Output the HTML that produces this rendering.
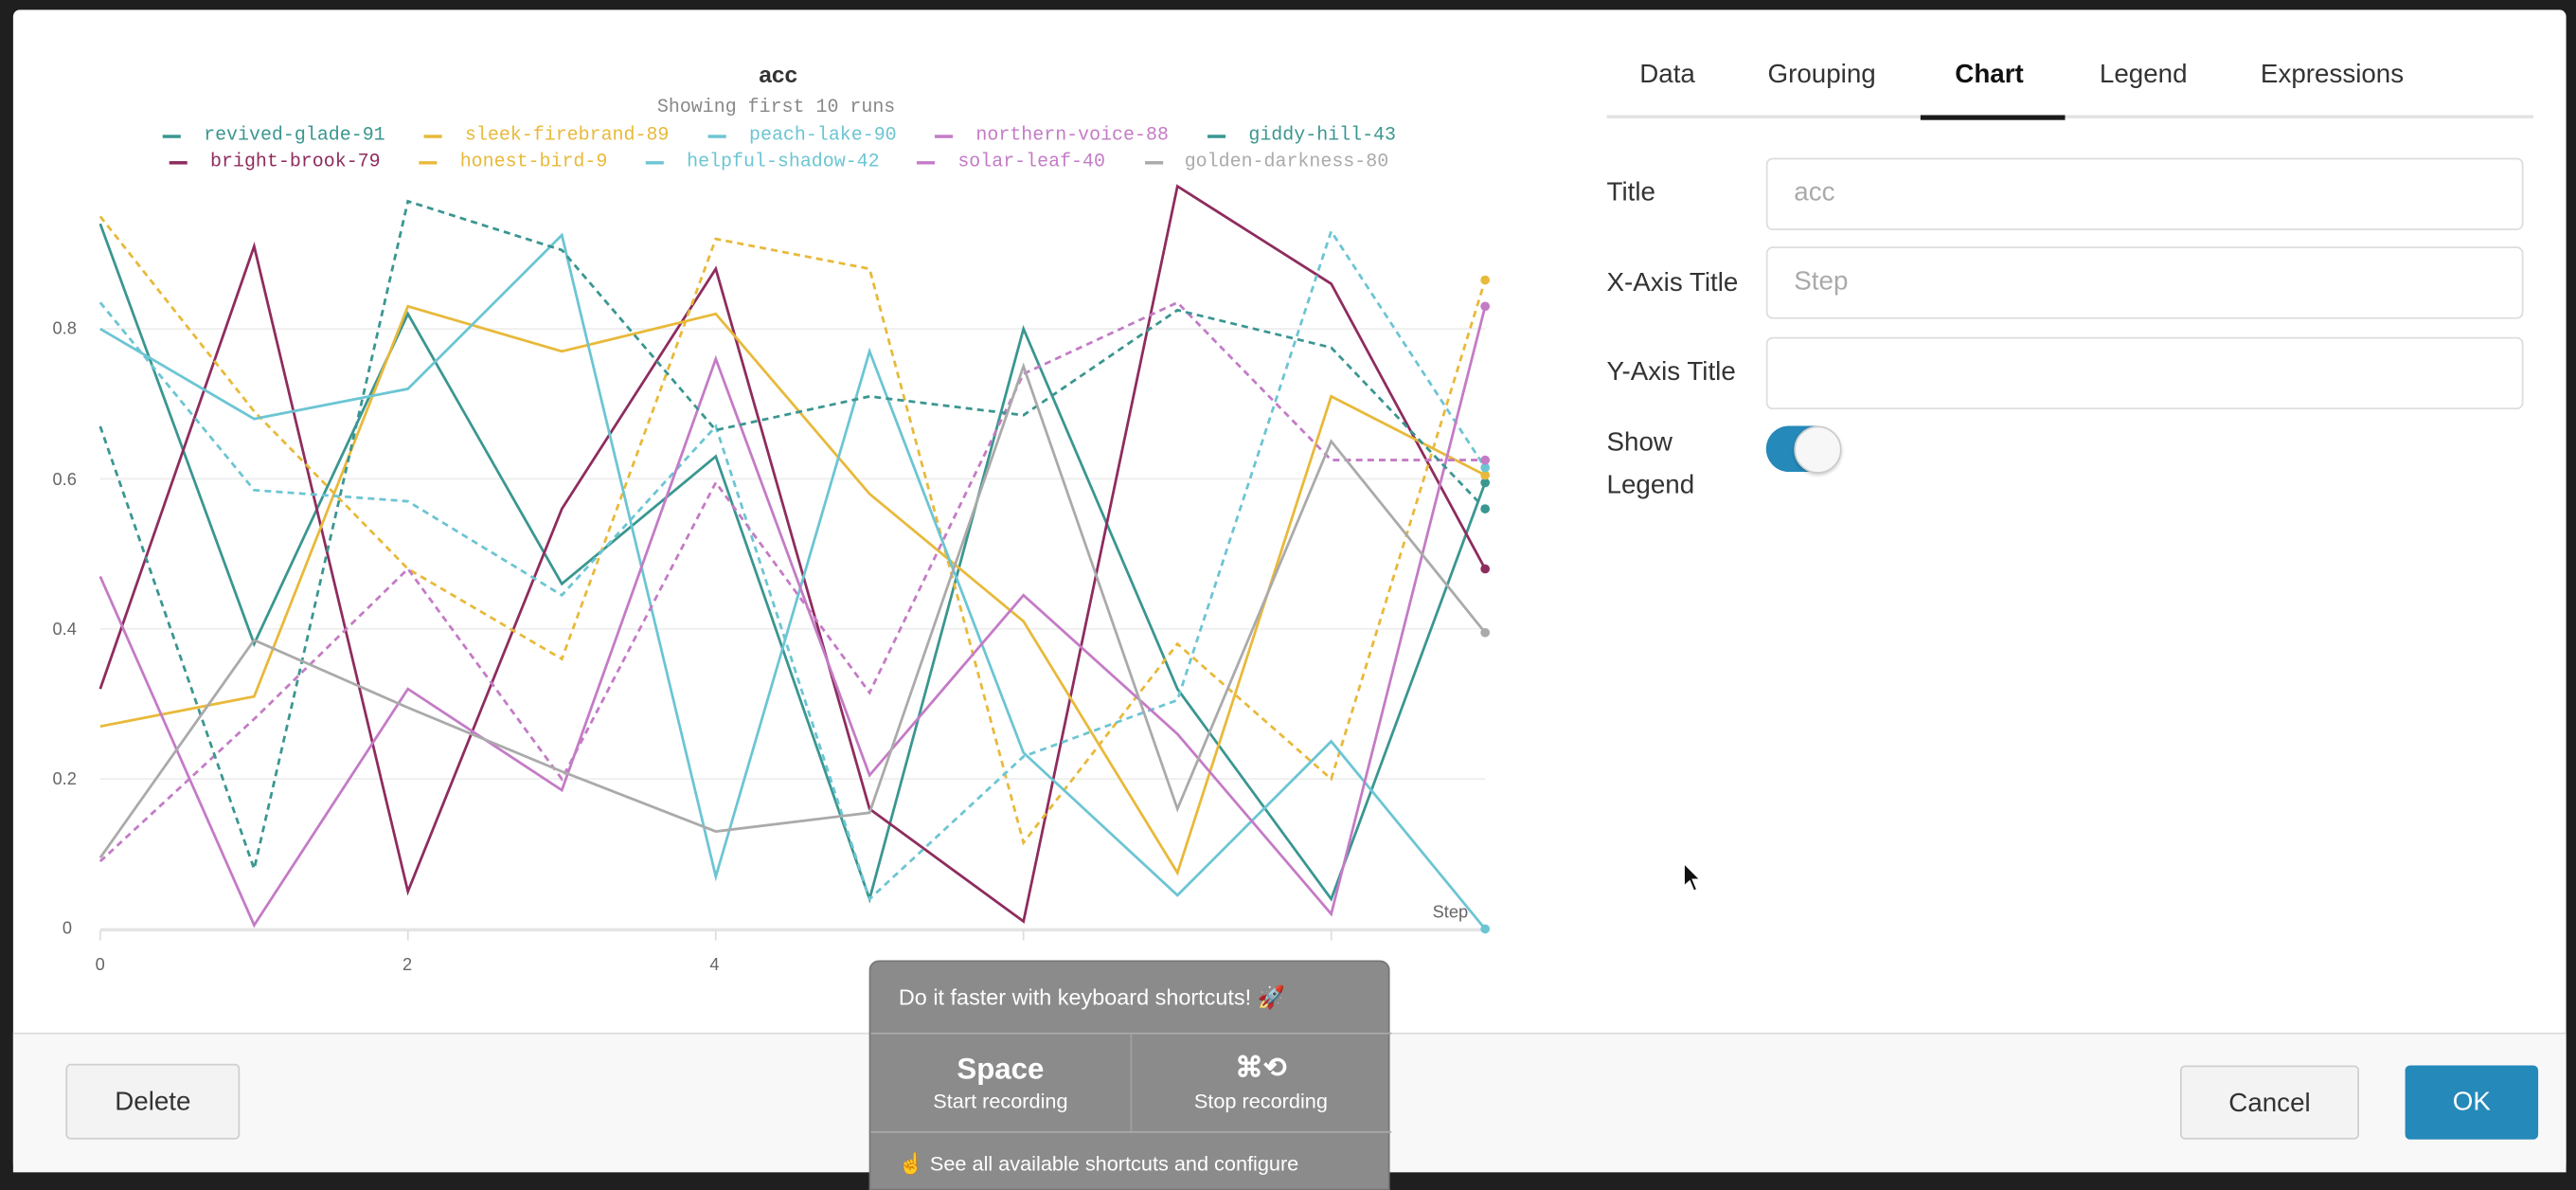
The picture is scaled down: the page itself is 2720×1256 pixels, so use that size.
<!DOCTYPE html>
<html><head><meta charset="utf-8">
<style>
html,body{margin:0;padding:0;width:2720px;height:1246px;overflow:hidden;background:#1f1f1f;}
#w{position:absolute;left:0;top:0;width:1568px;height:718px;transform-origin:0 0;transform:scale(1.73469,1.73538);font-family:"Liberation Sans",sans-serif;}
.a{position:absolute;white-space:nowrap;}
#modal{position:absolute;left:8px;top:6px;width:1554px;height:706px;background:#fff;border-radius:4px;overflow:hidden;}
#foot{position:absolute;left:8px;top:628px;width:1554px;height:84px;background:#f8f8f8;border-top:1px solid #ddd;}
.btn{position:absolute;border:1px solid #cfcfcf;border-radius:3px;background:#f3f3f3;color:#333;font-size:16px;text-align:center;box-sizing:border-box;}
.tab{position:absolute;top:37px;font-size:16px;color:#333;}
.lbl{position:absolute;left:978px;font-size:16px;color:#333;}
.inp{position:absolute;left:1075px;width:461px;height:44px;border:1px solid #ddd;border-radius:4px;box-sizing:border-box;font-size:16px;color:#aaa;padding:12px 16px;}
.leg{position:absolute;font-family:"Liberation Mono",monospace;font-size:11.5px;}
.mk{position:absolute;width:11px;height:0;border-top:2px solid;}
.mkd{position:absolute;width:11px;height:0;border-top:2px dashed;}
.tk{position:absolute;font-size:10.5px;color:#666;}
#tip{position:absolute;left:529px;top:584px;width:317px;height:140px;background:#8b8b8b;border-radius:6px 6px 0 0;color:#fff;border:1px solid #777;box-sizing:border-box;}
</style></head><body>
<div id="w">
<div id="modal"></div>
<div id="foot"></div>

<div class="a" style="left:462px;top:37px;font-size:14px;font-weight:bold;color:#333;">acc</div>
<div class="a" style="left:400px;top:59px;font-family:'Liberation Mono',monospace;font-size:11.5px;color:#888;">Showing first 10 runs</div>

<div class="mk" style="left:99px;top:82px;border-color:#3a9690"></div><div class="leg" style="left:124px;top:76px;color:#3a9690">revived-glade-91</div>
<div class="mk" style="left:258px;top:82px;border-color:#e8b93a"></div><div class="leg" style="left:283px;top:76px;color:#e8b93a">sleek-firebrand-89</div>
<div class="mk" style="left:431px;top:82px;border-color:#6cc5d3"></div><div class="leg" style="left:456px;top:76px;color:#6cc5d3">peach-lake-90</div>
<div class="mk" style="left:569px;top:82px;border-color:#c47bc6"></div><div class="leg" style="left:594px;top:76px;color:#c47bc6">northern-voice-88</div>
<div class="mkd" style="left:735px;top:82px;border-color:#3a9690"></div><div class="leg" style="left:760px;top:76px;color:#3a9690">giddy-hill-43</div>
<div class="mk" style="left:103px;top:98px;border-color:#8e2c5e"></div><div class="leg" style="left:128px;top:92px;color:#8e2c5e">bright-brook-79</div>
<div class="mkd" style="left:255px;top:98px;border-color:#e8b93a"></div><div class="leg" style="left:280px;top:92px;color:#e8b93a">honest-bird-9</div>
<div class="mkd" style="left:393px;top:98px;border-color:#6cc5d3"></div><div class="leg" style="left:418px;top:92px;color:#6cc5d3">helpful-shadow-42</div>
<div class="mkd" style="left:558px;top:98px;border-color:#c47bc6"></div><div class="leg" style="left:583px;top:92px;color:#c47bc6">solar-leaf-40</div>
<div class="mk" style="left:697px;top:98px;border-color:#aaa"></div><div class="leg" style="left:721px;top:92px;color:#aaa">golden-darkness-80</div>

<svg id="plot" class="a" style="left:0;top:0" width="960" height="620"></svg>

<div class="tk" style="left:32px;top:194px">0.8</div>
<div class="tk" style="left:32px;top:286px">0.6</div>
<div class="tk" style="left:32px;top:377px">0.4</div>
<div class="tk" style="left:32px;top:468px">0.2</div>
<div class="tk" style="left:38px;top:559px">0</div>
<div class="tk" style="left:58px;top:581px">0</div>
<div class="tk" style="left:245px;top:581px">2</div>
<div class="tk" style="left:432px;top:581px">4</div>
<div class="tk" style="left:872px;top:549px">Step</div>

<div class="tab" style="left:998px">Data</div>
<div class="tab" style="left:1076px">Grouping</div>
<div class="tab" style="left:1190px;font-weight:bold;color:#111">Chart</div>
<div class="tab" style="left:1278px">Legend</div>
<div class="tab" style="left:1376px">Expressions</div>
<div class="a" style="left:978px;top:70px;width:564px;height:2px;background:#e2e2e2"></div>
<div class="a" style="left:1169px;top:70px;width:88px;height:3px;background:#1a1a1a"></div>

<div class="lbl" style="top:109px">Title</div>
<div class="inp" style="top:96px">acc</div>
<div class="lbl" style="top:164px">X-Axis Title</div>
<div class="inp" style="top:150px">Step</div>
<div class="lbl" style="top:218px">Y-Axis Title</div>
<div class="inp" style="top:205px"></div>
<div class="lbl" style="top:257px;line-height:26px">Show<br>Legend</div>
<div class="a" style="left:1075px;top:259px;width:44px;height:28px;border-radius:14px;background:#2589b9"></div>
<div class="a" style="left:1092px;top:259px;width:27px;height:27px;border-radius:50%;background:#f7f7f7;border:1px solid #ccc;box-shadow:0 1px 2px rgba(0,0,0,.2)"></div>

<div class="btn" style="left:40px;top:647px;width:106px;height:46px;line-height:46px">Delete</div>
<div class="btn" style="left:1327px;top:648px;width:109px;height:45px;line-height:45px">Cancel</div>
<div class="btn" style="left:1464px;top:648px;width:81px;height:45px;line-height:45px;background:#2589b9;border:none;color:#fff">OK</div>

<div id="tip">
<div class="a" style="left:17px;top:14px;font-size:13.5px">Do it faster with keyboard shortcuts! 🚀</div>
<div class="a" style="left:0;top:43px;width:317px;height:1px;background:#aaa"></div>
<div class="a" style="left:158px;top:44px;width:1px;height:60px;background:#a0a0a0"></div>
<div class="a" style="left:0;top:103px;width:317px;height:1px;background:#aaa"></div>
<div class="a" style="left:0;top:55px;width:158px;text-align:center;font-size:18px;font-weight:bold">Space</div>
<div class="a" style="left:0;top:78px;width:158px;text-align:center;font-size:12.5px">Start recording</div>
<div class="a" style="left:158px;top:55px;width:159px;text-align:center;font-size:17px;font-weight:bold">⌘⟲</div>
<div class="a" style="left:158px;top:78px;width:159px;text-align:center;font-size:12.5px">Stop recording</div>
<div class="a" style="left:17px;top:116px;font-size:12.5px">☝ See all available shortcuts and configure</div>
</div>

<svg class="a" style="left:1024px;top:524px" width="14" height="20"><path d="M1 1 L1 15 L4.5 12 L7 18 L9 17 L6.5 11 L11 11 Z" fill="#111" stroke="#fff" stroke-width="1"/></svg>
</div>
<script>
var S=[
["#3a9690",0,[0.94,0.38,0.82,0.46,0.63,0.04,0.80,0.32,0.04,0.595]],
["#8e2c5e",0,[0.32,0.91,0.05,0.56,0.88,0.16,0.01,0.99,0.86,0.48]],
["#e8b93a",0,[0.27,0.31,0.83,0.77,0.82,0.58,0.41,0.075,0.71,0.605]],
["#e8b93a",1,[0.95,0.69,0.48,0.36,0.92,0.88,0.115,0.38,0.20,0.865]],
["#6cc5d3",0,[0.80,0.68,0.72,0.925,0.07,0.77,0.235,0.045,0.25,0.0]],
["#6cc5d3",1,[0.835,0.585,0.57,0.445,0.67,0.04,0.23,0.305,0.93,0.615]],
["#c47bc6",0,[0.47,0.005,0.32,0.185,0.76,0.205,0.445,0.26,0.02,0.83]],
["#c47bc6",1,[0.09,0.28,0.48,0.20,0.595,0.315,0.74,0.835,0.625,0.625]],
["#3a9690",1,[0.67,0.08,0.97,0.905,0.665,0.71,0.685,0.825,0.775,0.56]],
["#aaaaaa",0,[0.095,0.385,0.295,0.21,0.13,0.155,0.75,0.16,0.65,0.395]]];
var h='';
[0.2,0.4,0.6,0.8].forEach(function(v){var y=565-456.25*v;h+='<line x1="61" x2="904" y1="'+y+'" y2="'+y+'" stroke="#eee" stroke-width="1"/>';});
h+='<line x1="61" x2="904" y1="565.5" y2="565.5" stroke="#e4e4e4" stroke-width="2"/>';
for(var i=0;i<=8;i+=2){var x=61+i*93.667;h+='<line x1="'+x+'" x2="'+x+'" y1="566" y2="572" stroke="#ddd"/>';}
S.forEach(function(s){var p=s[2].map(function(v,i){return (61+i*93.667).toFixed(1)+','+(565-456.25*v).toFixed(1);}).join(' ');
h+='<polyline points="'+p+'" fill="none" stroke="'+s[0]+'" stroke-width="1.6"'+(s[1]?' stroke-dasharray="4,3"':'')+'/>';
h+='<circle cx="904" cy="'+(565-456.25*s[2][9])+'" r="2.8" fill="'+s[0]+'"/>';});
document.getElementById('plot').innerHTML=h;
</script>
</body></html>
